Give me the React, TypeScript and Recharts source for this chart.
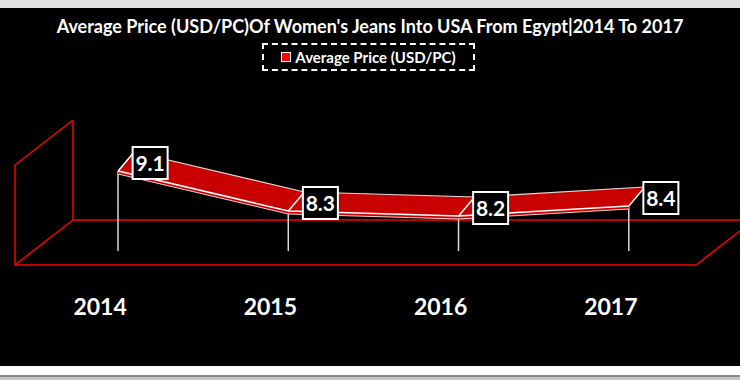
import React from 'react';
import * as RC from 'recharts';
import { ComposedChart, Bar, Line, XAxis, YAxis } from 'recharts';

const years = ['2014', '2015', '2016', '2017'];
const prices = [9.1, 8.3, 8.2, 8.4];
const yTicks = [7.5, 8, 8.5, 9, 9.5];

const data = years.map((year, i) => ({ year, price: prices[i] }));

const FONT = 'Lato, "Open Sans", sans-serif';
const RED = '#ff0000';
const RIBBON = '#c80000';

// fake 3d: plane of the line -> front face, front face -> back wall, ribbon thickness
const FRONT = { dx: -18, dy: 14 };
const DEPTH = { dx: 58, dy: -45 };
const RIB = { dx: 16, dy: -19 };

const usePlot = (): any => {
  const anyRC = RC as any;
  return anyRC.usePlotArea ? anyRC.usePlotArea() : null;
};

const Frame = () => {
  const area = usePlot();
  if (!area) return null;
  const fL = area.x + FRONT.dx;
  const fR = area.x + area.width + FRONT.dx;
  const fT = area.y + FRONT.dy;
  const fB = area.y + area.height + FRONT.dy;
  const bL = fL + DEPTH.dx;
  const bR = fR + DEPTH.dx;
  const s = { stroke: RED, strokeWidth: 1.5, fill: 'none' };
  return (
    <g>
      <line x1={fL} y1={fB} x2={fR} y2={fB} {...s} />
      <line x1={fR} y1={fB} x2={bR} y2={fB + DEPTH.dy} {...s} />
      <line x1={bL} y1={fB + DEPTH.dy} x2={bR} y2={fB + DEPTH.dy} {...s} />
      <line x1={fL} y1={fT} x2={fL} y2={fB} {...s} />
      <line x1={fL} y1={fT} x2={bL} y2={fT + DEPTH.dy} {...s} />
      <line x1={bL} y1={fT + DEPTH.dy} x2={bL} y2={fB + DEPTH.dy} {...s} />
      <line x1={fL} y1={fB} x2={bL} y2={fB + DEPTH.dy} {...s} />
    </g>
  );
};

const WallTick = (props: any) => {
  const { x, y } = props;
  return <line x1={x + FRONT.dx - 5} y1={y + FRONT.dy} x2={x + FRONT.dx} y2={y + FRONT.dy} stroke="#6a6a6a" strokeWidth={1.2} />;
};

const YearTick = (props: any) => {
  const { x, y, payload } = props;
  return (
    <text x={x + FRONT.dx} y={y + 64} textAnchor="middle" fill="#fff" fontFamily={FONT} fontWeight={700} fontSize={23}>
      {payload.value}
    </text>
  );
};

const DropLine = (props: any) => {
  const { x, y, width, height } = props;
  const cx = x + width / 2;
  return <line x1={cx} y1={y} x2={cx} y2={y + height} stroke="#d9d9d9" strokeWidth={1.5} />;
};

const Ribbon = (props: any) => {
  const { index, points } = props;
  if (index !== 0 || !points) return <g key={`dot-${index}`} />;
  const front = points.map((p: any) => ({ x: p.x, y: p.y }));
  const back = front.map((p: any) => ({ x: p.x + RIB.dx, y: p.y + RIB.dy }));
  const low = front.map((p: any) => ({ x: p.x, y: p.y + 3 }));
  const path = (a: any[]) => a.map((p) => `${p.x},${p.y}`).join(' ');
  return (
    <g key="ribbon">
      {front.slice(0, -1).map((p: any, i: number) => (
        <polygon key={`top-${i}`} points={path([p, front[i + 1], back[i + 1], back[i]])} fill={RIBBON} stroke={RIBBON} strokeWidth={0.5} />
      ))}
      {front.slice(0, -1).map((p: any, i: number) => (
        <polygon key={`face-${i}`} points={path([p, front[i + 1], low[i + 1], low[i]])} fill={RIBBON} />
      ))}
      <polyline points={path(back)} fill="none" stroke="#d9d9d9" strokeWidth={1.2} />
      <polyline points={path(front)} fill="none" stroke="#fff" strokeWidth={1.5} />
      <polyline points={path(low)} fill="none" stroke="#f4d0d0" strokeWidth={1} />
      {front.map((p: any, i: number) => (
        <line key={`edge-${i}`} x1={p.x} y1={p.y} x2={back[i].x} y2={back[i].y} stroke="#fff" strokeWidth={1.5} />
      ))}
    </g>
  );
};

const ValueBox = (props: any) => {
  const { x, y, value, index } = props;
  const cx = x + 32;
  const cy = y - 8;
  return (
    <g key={`lbl-${index}`}>
      <rect x={cx - 17.5} y={cy - 16} width={35} height={32} fill="#000" stroke="#fff" strokeWidth={2} />
      <text x={cx} y={cy + 7.5} textAnchor="middle" fill="#fff" fontFamily={FONT} fontWeight={700} fontSize={21}>
        {Number(value).toFixed(1)}
      </text>
    </g>
  );
};

export default function App() {
  return (
    <div style={{ position: 'absolute', left: 0, top: 0, width: 740, height: 380, background: '#fff', overflow: 'hidden' }}>
      <div style={{ position: 'absolute', left: 0, top: 0, width: 740, height: 8, background: '#e2e2e2' }} />
      <div style={{ position: 'absolute', left: 0, top: 8, width: 740, height: 358, background: '#000' }} />
      <div style={{ position: 'absolute', left: 0, top: 375, width: 740, height: 2, background: '#8a8a8a' }} />
      <div style={{ position: 'absolute', left: 0, top: 377, width: 740, height: 3, background: '#c4c4c4' }} />
      <div
        style={{
          position: 'absolute', left: 0, top: 13, width: 740, textAlign: 'center',
          color: '#fff', fontFamily: FONT, fontWeight: 700, fontSize: 18, lineHeight: '26px',
        }}
      >
        Average Price (USD/PC)Of Women's Jeans Into USA From Egypt|2014 To 2017
      </div>
      <div
        style={{
          position: 'absolute', left: 262, top: 43, width: 213, height: 28, boxSizing: 'border-box',
          border: '2px dashed #fff', display: 'flex', alignItems: 'center', justifyContent: 'center',
          color: '#fff', fontFamily: FONT, fontWeight: 700, fontSize: 15,
        }}
      >
        <span style={{ display: 'inline-block', width: 8, height: 8, background: RED, border: '1px solid #fff', marginRight: 4 }} />
        Average Price (USD/PC)
      </div>
      <div style={{ position: 'absolute', left: 0, top: 0 }}>
        <ComposedChart width={740} height={380} data={data} margin={{ top: 151, right: 26, bottom: 99, left: 33 }}>
          <Frame />
          <XAxis dataKey="year" height={30} axisLine={false} tickLine={false} tickSize={0} tickMargin={0} tick={<YearTick />} interval={0} />
          <YAxis domain={[7.5, 9.5]} ticks={yTicks} width={0} axisLine={false} tickLine={false} tickSize={0} tickMargin={0} tick={<WallTick />} />
          <Bar dataKey="price" shape={<DropLine />} isAnimationActive={false} />
          <Line dataKey="price" stroke="none" dot={Ribbon} activeDot={false} label={ValueBox} isAnimationActive={false} />
        </ComposedChart>
      </div>
    </div>
  );
}
